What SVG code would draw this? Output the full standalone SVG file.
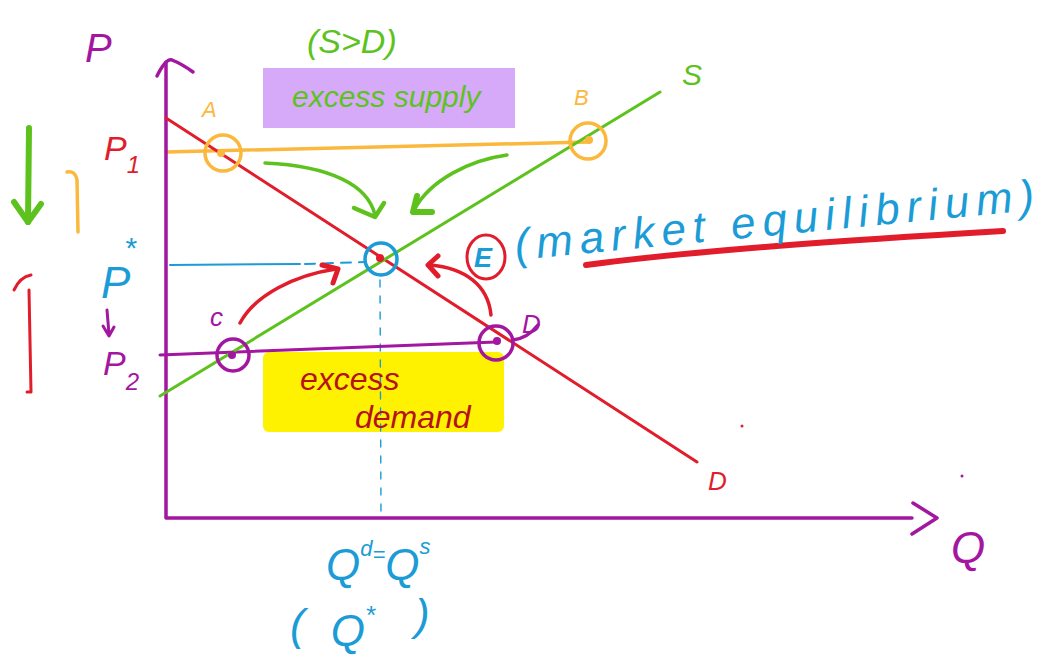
<svg xmlns="http://www.w3.org/2000/svg" width="1051" height="658" viewBox="0 0 1051 658">
<style>
.pu{stroke:#a3169f;fill:none;stroke-width:3.5;stroke-linecap:round;stroke-linejoin:round}
.rd{stroke:#e11d2b;fill:none;stroke-width:3;stroke-linecap:round;stroke-linejoin:round}
.gr{stroke:#5dc21d;fill:none;stroke-width:3;stroke-linecap:round;stroke-linejoin:round}
.or{stroke:#fbb83c;fill:none;stroke-width:3.5;stroke-linecap:round;stroke-linejoin:round}
.bl{stroke:#1b9cd6;fill:none;stroke-width:3.5;stroke-linecap:round;stroke-linejoin:round}
.t{font-family:"Liberation Sans",Arial,sans-serif;font-style:italic}
</style>
<rect width="1051" height="658" fill="#ffffff"/>
<g id="highlights">
<rect x="263" y="68" width="252" height="60" fill="#d6aaf8"/>
<rect x="263" y="352" width="241" height="80" rx="6" fill="#fff200"/>
</g>
<g id="guides">
<path class="bl" d="M170,265 L300,264" style="stroke-width:2"/>
<path class="bl" d="M305,264 L365,262" style="stroke-width:2" stroke-dasharray="10 8"/>
<path class="bl" d="M380,280 L381,515" style="stroke-width:1.4" stroke-dasharray="7 9"/>
<path class="or" d="M166,152 L588,142"/>
<path class="pu" d="M160,355 L496,342" style="stroke-width:3"/>
</g>
<g id="axes">
<path class="pu" d="M166,62 L166,518 L912,518"/>
<path class="pu" d="M157,76 Q166,58 172,60 Q182,64 193,72"/>
<path class="pu" d="M913,503 L937,518 L912,534"/>
</g>
<g id="curves">
<path class="rd" d="M166,118 L697,462"/>
<path class="gr" d="M160,396 L660,92"/>
</g>
<g id="connectors">
<path class="gr" d="M265,163 C330,166 368,185 375,215" style="stroke-width:3.5"/>
<path class="gr" d="M354,208 L375,217 L384,203" style="stroke-width:4.5"/>
<path class="gr" d="M507,155 C470,160 430,180 414,210" style="stroke-width:3.5"/>
<path class="gr" d="M417,196 L413,212 L432,212" style="stroke-width:6"/>
<path class="rd" d="M240,323 C255,295 295,275 336,269" style="stroke-width:3.5"/>
<path class="rd" d="M322,265 L338,269 L333,283" style="stroke-width:5"/>
<path class="rd" d="M491,315 C488,285 465,268 430,265" style="stroke-width:3.5"/>
<path class="rd" d="M438,256 L428,265 L438,276" style="stroke-width:5"/>
<path class="rd" d="M586,265 C700,250 850,240 1003,231" style="stroke-width:6"/>
</g>
<g id="node-A">
<circle class="or" cx="223" cy="153" r="18"/>
<circle cx="221" cy="153" r="4" fill="#fbb83c"/>
<text class="t" x="202" y="117" font-size="22" fill="#fbb83c">A</text>
</g>
<g id="node-B">
<circle class="or" cx="588" cy="141" r="18"/>
<circle cx="589" cy="140" r="4" fill="#fbb83c"/>
<text class="t" x="574" y="105" font-size="22" fill="#fbb83c">B</text>
</g>
<g id="node-C">
<circle class="pu" cx="233" cy="355" r="16"/>
<circle cx="232" cy="355" r="4" fill="#a3169f"/>
<text class="t" x="210" y="326" font-size="26" fill="#a3169f">c</text>
</g>
<g id="node-D">
<circle class="pu" cx="496" cy="343" r="17"/>
<circle cx="497" cy="341" r="4" fill="#a3169f"/>
<path class="pu" d="M513,340 Q528,338 538,325"/>
<text class="t" x="522" y="333" font-size="26" fill="#a3169f">D</text>
</g>
<g id="node-E">
<circle class="bl" cx="381" cy="259" r="16"/>
<circle cx="380" cy="258" r="4" fill="#e11d2b"/>
<ellipse class="rd" cx="486" cy="257" rx="19" ry="22"/>
<text class="t" x="474" y="267" font-size="27" font-weight="bold" fill="#1b9cd6">E</text>
<text class="t" x="516" y="260" font-size="44" letter-spacing="7" fill="#1b9cd6" transform="rotate(-5.5 516 260)">(market equilibrium)</text>
</g>
<g id="labels">
<text class="t" x="85" y="62" font-size="40" fill="#a3169f">P</text>
<text class="t" x="951" y="563" font-size="44" fill="#a3169f">Q</text>
<text class="t" x="682" y="85" font-size="30" fill="#5dc21d">S</text>
<text class="t" x="708" y="490" font-size="26" fill="#e11d2b">D</text>
<text class="t" x="104" y="160" font-size="34" fill="#e11d2b">P<tspan font-size="24" dy="13">1</tspan></text>
<text class="t" x="101" y="298" font-size="44" fill="#1b9cd6">P<tspan font-size="30" dx="-6" dy="-40">*</tspan></text>
<text class="t" x="103" y="375" font-size="34" fill="#a3169f">P<tspan font-size="24" dy="15">2</tspan></text>
<path class="pu" d="M107,310 L109,334 M103,326 L109,336 L114,327" style="stroke-width:3"/>
<text class="t" x="307" y="53" font-size="34" fill="#5dc21d">(S&gt;D)</text>
<text class="t" x="292" y="107" font-size="30" fill="#5dc21d">excess supply</text>
<text class="t" x="300" y="390" font-size="32" fill="#b5121b">excess</text>
<text class="t" x="355" y="428" font-size="32" fill="#b5121b">demand</text>
<text class="t" x="326" y="580" font-size="44" fill="#1b9cd6">Q<tspan font-size="22" dy="-24">d</tspan><tspan font-size="22" dy="6">=</tspan><tspan font-size="44" dy="18">Q</tspan><tspan font-size="22" dy="-26">s</tspan></text>
<text class="t" x="290" y="640" font-size="44" fill="#1b9cd6">(<tspan dx="26" dy="6">Q</tspan><tspan font-size="26" dy="-22">*</tspan><tspan dx="40" dy="6">)</tspan></text>
</g>
<g id="side-arrows">
<path class="gr" d="M29,128 L28,222" style="stroke-width:6"/>
<path class="gr" d="M14,202 L28,222 L41,204" style="stroke-width:6"/>
<path class="or" d="M67,172 Q75,170 77,180 L78,232"/>
<path class="rd" d="M14,290 Q20,277 31,275 M29,290 L31,392 L27,392"/>
</g>
<g id="dots">
<circle cx="742" cy="426" r="1.5" fill="#e11d2b"/>
<circle cx="962" cy="476" r="1.5" fill="#a3169f"/>
</g>
</svg>
